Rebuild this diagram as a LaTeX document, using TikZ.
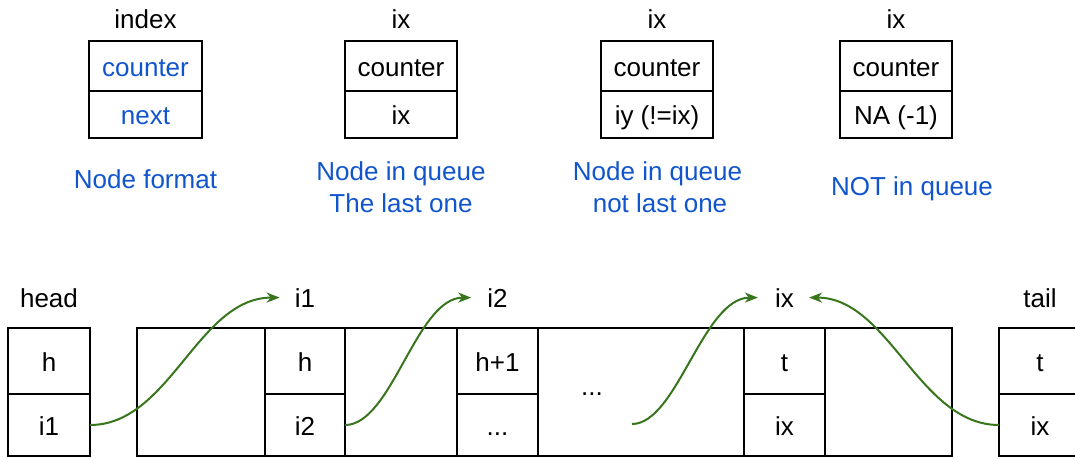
\documentclass[tikz,border=0pt]{standalone}
\usepackage{fontspec}
\setmainfont{Liberation Sans}
\usetikzlibrary{arrows.meta}
\definecolor{tblue}{HTML}{1155CC}
\definecolor{tgreen}{HTML}{38761D}
\begin{document}
\begin{tikzpicture}[x=1pt,y=-1pt,
  font=\fontsize{26}{31}\selectfont,
  cell/.style 2 args={draw, line width=2pt, minimum width=#1, minimum height=#2,
    inner sep=0pt, outer sep=0pt, text height=20pt, text depth=0pt},
  lab/.style={anchor=base, inner sep=0pt},
  note/.style={anchor=base, inner sep=0pt, text=tblue},
  link/.style={draw=tgreen, line width=2pt, -{Stealth[length=13pt,width=10pt,inset=4pt]}}]
\useasboundingbox (0,0) rectangle (1075,458);
\clip (0,0) rectangle (1075,458);

% ---- top: node formats ----
\node[lab] (t1) at (145.5,28) {index};
\node[cell={113}{50}, text=tblue] (f1c) at (145.5,66) {counter};
\node[cell={113}{47}, text=tblue] (f1n) at (145.5,114.5) {next};
\node[note] (n1) at (145.5,188) {Node format};

\node[lab] (t2) at (401,28) {ix};
\node[cell={112}{50}] (f2c) at (401,66) {counter};
\node[cell={112}{47}] (f2n) at (401,114.5) {ix};
\node[note] (n2a) at (401,180) {Node in queue};
\node[note] (n2b) at (401,212) {The last one};

\node[lab] (t3) at (657,28) {ix};
\node[cell={112}{50}] (f3c) at (657,66) {counter};
\node[cell={112}{47}] (f3n) at (657,114.5) {iy (!=ix)};
\node[note] (n3a) at (657.5,180) {Node in queue};
\node[note] (n3b) at (660,212) {not last one};

\node[lab] (t4) at (896,28) {ix};
\node[cell={112}{50}] (f4c) at (896,66) {counter};
\node[cell={112}{47}] (f4n) at (896,114.5) {NA (-1)};
\node[note] (n4) at (912,195) {NOT in queue};

% ---- bottom: queue ----
\node[lab] (lhead) at (49,307) {head};
\node[lab] (li1) at (305,307) {i1};
\node[lab] (li2) at (497.5,307) {i2};
\node[lab] (lix) at (784.5,307) {ix};
\node[lab] (ltail) at (1040,307) {tail};

\node[draw, line width=2pt, minimum width=815, minimum height=128, inner sep=0pt, outer sep=0pt] (arr) at (544.5,392) {};
\node[lab] (dots) at (592,395) {...};

\node[cell={82}{66}] (hc) at (49,361) {h};
\node[cell={82}{62}] (hn) at (49,425) {i1};

\node[cell={80}{66}] (ac) at (305,361) {h};
\node[cell={80}{62}] (an) at (305,425) {i2};

\node[cell={81}{66}] (bc) at (497.5,361) {h+1};
\node[cell={81}{62}] (bn) at (497.5,425) {...};

\node[cell={81}{66}] (cc) at (784.5,361) {t};
\node[cell={81}{62}] (cn) at (784.5,425) {ix};

\node[cell={82}{66}] (tc) at (1040,361) {t};
\node[cell={82}{62}] (tn) at (1040,425) {ix};

\coordinate (dstart) at (632,424);

\draw[link] (hn.east) .. controls +(80,0) and +(-82,0) .. ([xshift=-15pt]li1.west);
\draw[link] (an.east) .. controls +(47,0) and +(-55,0) .. ([xshift=-16pt]li2.west);
\draw[link] (dstart) .. controls +(45,0) and +(-55,0) .. ([xshift=-17pt]lix.west);
\draw[link] (tn.west) .. controls +(-80,0) and +(80,0) .. ([xshift=15pt]lix.east);
\end{tikzpicture}
\end{document}
